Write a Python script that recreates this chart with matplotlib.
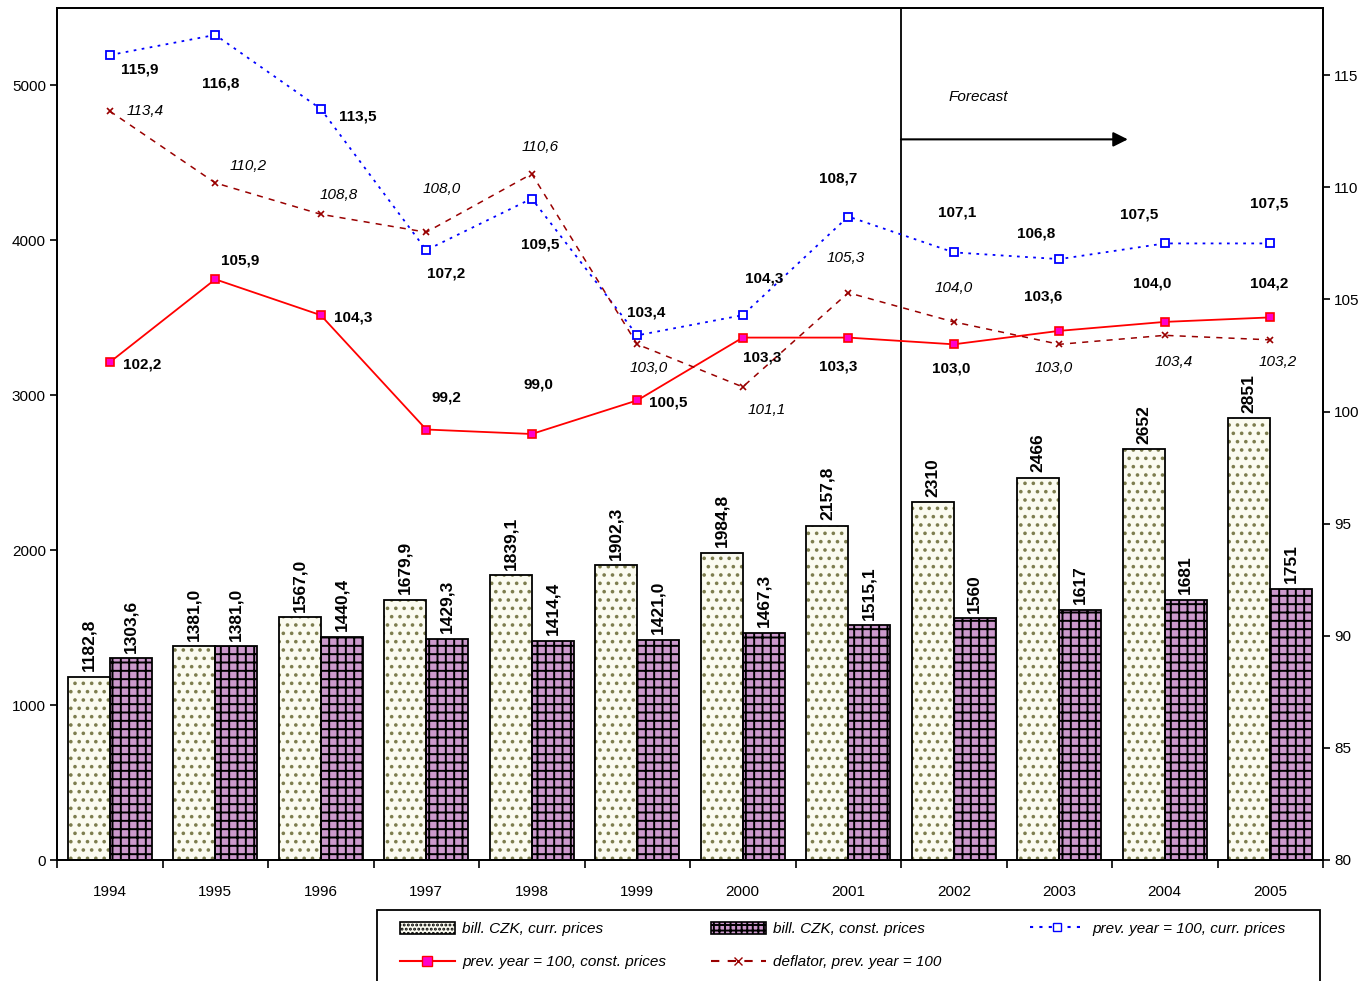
import matplotlib
matplotlib.use("Agg")
import matplotlib.pyplot as plt
from matplotlib.lines import Line2D
from matplotlib.patches import Patch, Rectangle
import numpy as np

years = ["1994", "1995", "1996", "1997", "1998", "1999", "2000", "2001", "2002", "2003", "2004", "2005"]
bill_curr = [1182.8, 1381.0, 1567.0, 1679.9, 1839.1, 1902.3, 1984.8, 2157.8, 2310, 2466, 2652, 2851]
bill_curr_lbl = ["1182,8", "1381,0", "1567,0", "1679,9", "1839,1", "1902,3", "1984,8", "2157,8", "2310", "2466", "2652", "2851"]
bill_const = [1303.6, 1381.0, 1440.4, 1429.3, 1414.4, 1421.0, 1467.3, 1515.1, 1560, 1617, 1681, 1751]
bill_const_lbl = ["1303,6", "1381,0", "1440,4", "1429,3", "1414,4", "1421,0", "1467,3", "1515,1", "1560", "1617", "1681", "1751"]
idx_curr = [115.9, 116.8, 113.5, 107.2, 109.5, 103.4, 104.3, 108.7, 107.1, 106.8, 107.5, 107.5]
idx_const = [102.2, 105.9, 104.3, 99.2, 99.0, 100.5, 103.3, 103.3, 103.0, 103.6, 104.0, 104.2]
deflator = [113.4, 110.2, 108.8, 108.0, 110.6, 103.0, 101.1, 105.3, 104.0, 103.0, 103.4, 103.2]

# label offsets in pixels (dx, dy up)
off_curr = [(30, -14), (5, -49), (37, -8), (20, -23), (8, -46), (9, 23), (21, 37), (-10, 38), (3, 40), (-23, 26), (-26, 29), (-1, 40)]
off_const = [(32, -2), (25, 19), (32, -2), (20, 32), (7, 49), (31, -2), (19, -20), (-10, -29), (-3, -24), (-16, 34), (-13, 38), (-1, 34)]
off_defl = [(35, 0), (33, 17), (18, 19), (15, 43), (8, 27), (11, -24), (24, -23), (-3, 35), (0, 34), (-6, -24), (9, -27), (7, -22)]

FONT = "Liberation Sans"
plt.rcParams["font.family"] = FONT
plt.rcParams["hatch.linewidth"] = 1.4

W, H = 1358, 981
fig = plt.figure(figsize=(W / 100, H / 100), dpi=100)
ax = fig.add_axes([57 / W, 1 - 860 / H, (1323 - 57) / W, (860 - 8) / H])
ax2 = ax.twinx()

x = np.arange(len(years))
bw = 0.4
# light bars (dotted)
ax.bar(x - bw / 2, bill_curr, bw, color="#fbfbf0", edgecolor="#7d7d4e", hatch="..", linewidth=0, zorder=2)
ax.bar(x - bw / 2, bill_curr, bw, facecolor="none", edgecolor="black", linewidth=1.3, zorder=3)
# dark bars (grid)
ax.bar(x + bw / 2, bill_const, bw, color="#cc99cc", edgecolor="black", hatch="++", linewidth=0, zorder=2)
ax.bar(x + bw / 2, bill_const, bw, facecolor="none", edgecolor="black", linewidth=1.3, zorder=3)

for i in range(len(years)):
    ax.annotate(bill_curr_lbl[i], (x[i] - bw / 2, bill_curr[i]), xytext=(0, 4), textcoords="offset points",
                rotation=90, ha="center", va="bottom", fontsize=12.5, fontweight="bold", zorder=5)
    ax.annotate(bill_const_lbl[i], (x[i] + bw / 2, bill_const[i]), xytext=(0, 4), textcoords="offset points",
                rotation=90, ha="center", va="bottom", fontsize=12.5, fontweight="bold", zorder=5)

ax.set_xlim(-0.5, len(years) - 0.5)
ax.set_ylim(0, 5500)
ax.set_yticks([0, 1000, 2000, 3000, 4000, 5000])
ax.set_xticks(x)
ax.set_xticklabels(years)
ax.set_xticks(np.arange(-0.5, len(years), 1.0), minor=True)
ax.tick_params(axis="x", which="major", length=0, pad=18, labelsize=11)
ax.tick_params(axis="x", which="minor", length=6, width=1.2, direction="out")
ax.tick_params(axis="y", length=5, width=1.2, direction="out", labelsize=11, pad=3)

ax2.set_ylim(80, 118)
ax2.set_yticks([80, 85, 90, 95, 100, 105, 110, 115])
ax2.tick_params(axis="y", length=5, width=1.2, direction="out", labelsize=11, pad=3)

for a in (ax, ax2):
    for s in a.spines.values():
        s.set_linewidth(1.3)

ax2.plot(x, idx_curr, color="#0000ff", linestyle=(0, (1.5, 3)), linewidth=1.3, marker="s",
         markersize=6, markerfacecolor="white", markeredgecolor="#0000ff", markeredgewidth=1.3, zorder=4)
ax2.plot(x, idx_const, color="#ff0000", linestyle="-", linewidth=1.3, marker="s",
         markersize=6, markerfacecolor="#ff00cc", markeredgecolor="#ff0000", markeredgewidth=1.2, zorder=4)
ax2.plot(x, deflator, color="#990000", linestyle=(0, (4, 4)), linewidth=1.1, marker="x",
         markersize=5, markeredgecolor="#990000", markeredgewidth=1.2, zorder=4)

k = 0.72
for i in range(len(years)):
    dx, dy = off_curr[i]
    ax2.annotate(f"{idx_curr[i]:.1f}".replace(".", ","), (x[i], idx_curr[i]), xytext=(dx * k, dy * k),
                 textcoords="offset points", ha="center", va="center", fontsize=11, fontweight="bold", zorder=6)
    dx, dy = off_const[i]
    ax2.annotate(f"{idx_const[i]:.1f}".replace(".", ","), (x[i], idx_const[i]), xytext=(dx * k, dy * k),
                 textcoords="offset points", ha="center", va="center", fontsize=11, fontweight="bold", zorder=6)
    dx, dy = off_defl[i]
    ax2.annotate(f"{deflator[i]:.1f}".replace(".", ","), (x[i], deflator[i]), xytext=(dx * k, dy * k),
                 textcoords="offset points", ha="center", va="center", fontsize=11, fontstyle="italic", zorder=6)

# forecast marker
ax.axvline(7.5, color="black", linewidth=1.3, zorder=4)
ax.annotate("", xy=(9.65, 4652), xytext=(7.5, 4652),
            arrowprops=dict(arrowstyle="-|>", color="black", lw=1.5, mutation_scale=22, shrinkA=0, shrinkB=0))
ax.text(8.23, 4923, "Forecast", ha="center", va="center", fontsize=11, fontstyle="italic")

h_curr = Patch(facecolor="#fbfbf0", edgecolor="black", hatch="....", linewidth=1.2)
h_const = Patch(facecolor="#cc99cc", edgecolor="black", hatch="+++", linewidth=1.2)
h_red = Line2D([], [], color="#ff0000", marker="s", markersize=7, markerfacecolor="#ff00cc", markeredgecolor="#ff0000")
h_defl = Line2D([], [], color="#990000", linestyle=(0, (4, 4)), marker="x", markersize=6, markeredgecolor="#990000")
h_blue = Line2D([], [], color="#0000ff", linestyle=(0, (1.5, 3)), marker="s", markersize=6,
                markerfacecolor="white", markeredgecolor="#0000ff")

legkw = dict(frameon=False, prop={"family": FONT, "style": "italic", "size": 11},
             handlelength=3.6, handleheight=0.8, borderpad=0.8, labelspacing=1.25, handletextpad=0.5)
legA = fig.legend([h_curr, h_red, h_const, h_defl],
                  ["bill. CZK, curr. prices", "prev. year = 100, const. prices",
                   "bill. CZK, const. prices", "deflator, prev. year = 100"],
                  ncol=2, loc="upper left", bbox_to_anchor=(380 / W, 1 - 902 / H), columnspacing=2.9, **legkw)
legB = fig.legend([h_blue], ["prev. year = 100, curr. prices"],
                  ncol=1, loc="upper left", bbox_to_anchor=(1010 / W, 1 - 902 / H), **legkw)
fig.add_artist(Rectangle((377 / W, -0.01), (1320 - 377) / W, (0.01 + 1 - 910 / H), transform=fig.transFigure,
                         facecolor="none", edgecolor="black", linewidth=1.3))

fig.savefig("out.png", dpi=100)
